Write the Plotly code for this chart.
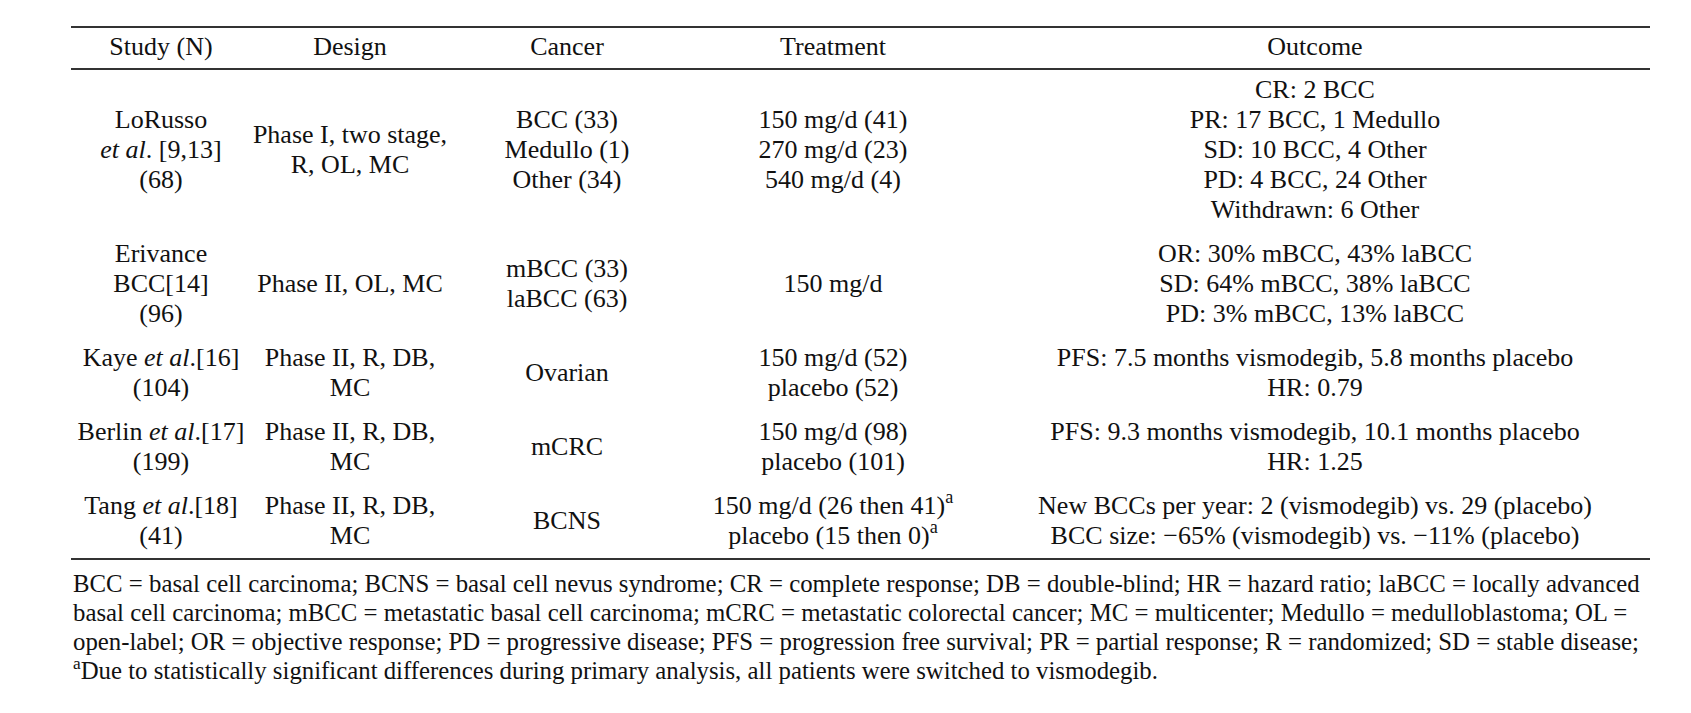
import plotly.graph_objects as go

# table content, one list of text lines per cell
headers = ["Study (N)", "Design", "Cancer", "Treatment", "Outcome"]

study = [
    ["LoRusso", "<i>et al</i>. [9,13]", "(68)"],
    ["Erivance", "BCC[14]", "(96)"],
    ["Kaye <i>et al</i>.[16]", "(104)"],
    ["Berlin <i>et al</i>.[17]", "(199)"],
    ["Tang <i>et al</i>.[18]", "(41)"],
]
design = [
    ["Phase I, two stage,", "R, OL, MC"],
    ["Phase II, OL, MC"],
    ["Phase II, R, DB,", "MC"],
    ["Phase II, R, DB,", "MC"],
    ["Phase II, R, DB,", "MC"],
]
cancer = [
    ["BCC (33)", "Medullo (1)", "Other (34)"],
    ["mBCC (33)", "laBCC (63)"],
    ["Ovarian"],
    ["mCRC"],
    ["BCNS"],
]
treatment = [
    ["150 mg/d (41)", "270 mg/d (23)", "540 mg/d (4)"],
    ["150 mg/d"],
    ["150 mg/d (52)", "placebo (52)"],
    ["150 mg/d (98)", "placebo (101)"],
    ["150 mg/d (26 then 41)<sup>a</sup>", "placebo (15 then 0)<sup>a</sup>"],
]
outcome = [
    ["CR: 2 BCC", "PR: 17 BCC, 1 Medullo", "SD: 10 BCC, 4 Other",
     "PD: 4 BCC, 24 Other", "Withdrawn: 6 Other"],
    ["OR: 30% mBCC, 43% laBCC", "SD: 64% mBCC, 38% laBCC",
     "PD: 3% mBCC, 13% laBCC"],
    ["PFS: 7.5 months vismodegib, 5.8 months placebo", "HR: 0.79"],
    ["PFS: 9.3 months vismodegib, 10.1 months placebo", "HR: 1.25"],
    ["New BCCs per year: 2 (vismodegib) vs. 29 (placebo)",
     "BCC size: \u221265% (vismodegib) vs. \u221211% (placebo)"],
]

footnote_lines = [
    "BCC = basal cell carcinoma; BCNS = basal cell nevus syndrome; CR = complete response; "
    "DB = double-blind; HR = hazard ratio; laBCC = locally advanced",
    "basal cell carcinoma; mBCC = metastatic basal cell carcinoma; mCRC = metastatic colorectal "
    "cancer; MC = multicenter; Medullo = medulloblastoma; OL =",
    "open-label; OR = objective response; PD = progressive disease; PFS = progression free "
    "survival; PR = partial response; R = randomized; SD = stable disease;",
    "<sup>a</sup>Due to statistically significant differences during primary analysis, "
    "all patients were switched to vismodegib.",
]

# page geometry (pixels)
W, H = 1691, 713
TABLE_LEFT, TABLE_RIGHT = 63, 1642
COL_CENTERS = [153, 342, 559, 825, 1307]
TOP_RULE_Y, HEADER_RULE_Y = 19, 61
LINE_H = 30
ROW_PAD = 14
FOOT_X, FOOT_Y0, FOOT_LINE_H = 65, 578, 29

FONT = "Liberation Serif, Times New Roman, serif"
BODY_SIZE = 26
FOOT_SIZE = 24.8
TEXT_COLOR = "#111111"

columns = [study, design, cancer, treatment, outcome]

xs, ys, texts = [], [], []

# header row
for cx, h in zip(COL_CENTERS, headers):
    xs.append(cx)
    ys.append((TOP_RULE_Y + HEADER_RULE_Y) / 2)
    texts.append(h)

# body rows, each cell vertically centred in its row
row_top = HEADER_RULE_Y
for r in range(len(study)):
    n_lines = max(len(col[r]) for col in columns)
    row_h = n_lines * LINE_H + ROW_PAD
    center = row_top + row_h / 2
    for cx, col in zip(COL_CENTERS, columns):
        cell = col[r]
        for k, line in enumerate(cell):
            xs.append(cx)
            ys.append(center + (k - (len(cell) - 1) / 2) * LINE_H)
            texts.append(line)
    row_top += row_h
bottom_rule_y = row_top

fig = go.Figure()
fig.add_trace(
    go.Scatter(
        x=xs,
        y=ys,
        mode="text",
        text=texts,
        textposition="middle center",
        textfont=dict(family=FONT, size=BODY_SIZE, color=TEXT_COLOR),
        hoverinfo="skip",
        showlegend=False,
    )
)

fig.add_trace(
    go.Scatter(
        x=[FOOT_X] * len(footnote_lines),
        y=[FOOT_Y0 + i * FOOT_LINE_H for i in range(len(footnote_lines))],
        mode="text",
        text=footnote_lines,
        textposition="middle right",
        textfont=dict(family=FONT, size=FOOT_SIZE, color=TEXT_COLOR),
        hoverinfo="skip",
        showlegend=False,
    )
)

for y in [TOP_RULE_Y, HEADER_RULE_Y, bottom_rule_y]:
    fig.add_shape(
        type="line",
        x0=TABLE_LEFT, x1=TABLE_RIGHT, y0=y, y1=y,
        line=dict(color="#333333", width=2),
        layer="below",
    )

fig.update_layout(
    width=W,
    height=H,
    margin=dict(l=0, r=0, t=0, b=0),
    paper_bgcolor="white",
    plot_bgcolor="white",
    xaxis=dict(range=[0, W], visible=False, fixedrange=True),
    yaxis=dict(range=[H, 0], visible=False, fixedrange=True),
)

fig.write_html("out.html")
